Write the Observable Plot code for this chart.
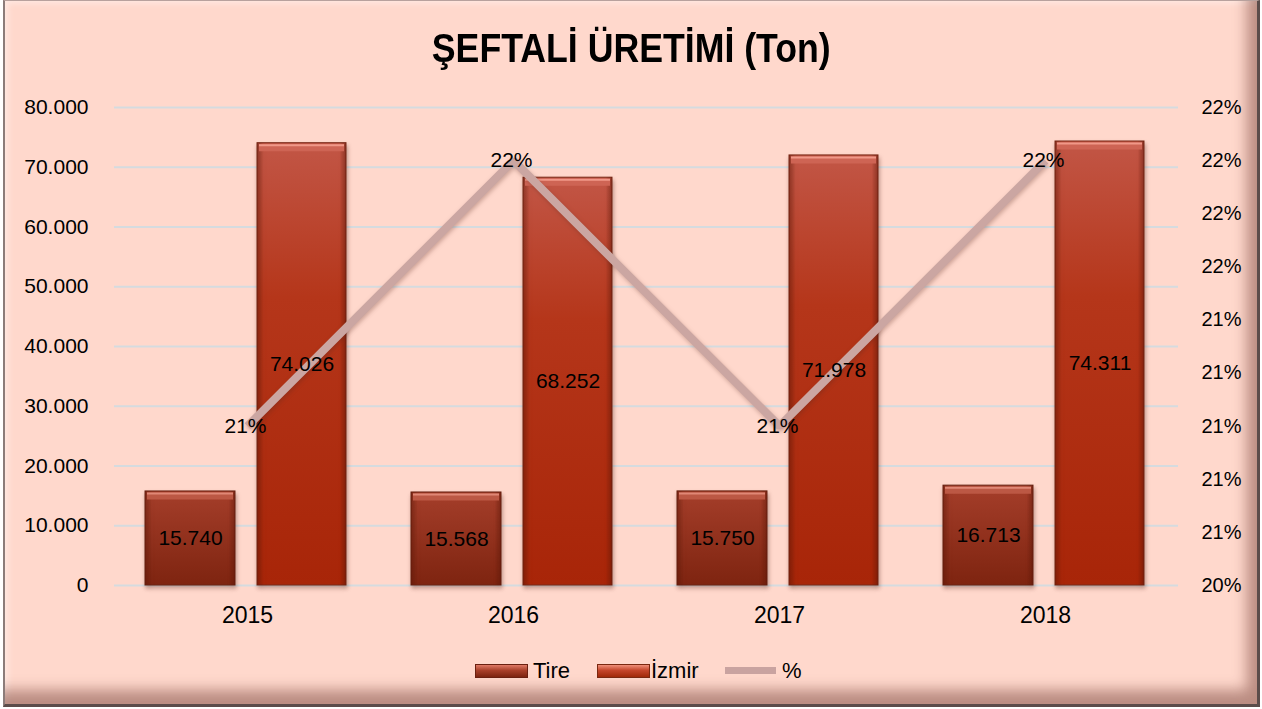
<!DOCTYPE html>
<html><head><meta charset="utf-8">
<script src="https://cdn.jsdelivr.net/npm/d3@7"></script>
<script src="https://cdn.jsdelivr.net/npm/@observablehq/plot@0.6"></script>
<style>
html,body{margin:0;padding:0;background:#fff;width:1262px;height:709px;overflow:hidden;font-family:"Liberation Sans",Arial,sans-serif;}
#frame{position:absolute;left:3px;top:0;width:1257px;height:707px;box-sizing:border-box;background:#FFD8CC;
 border-left:2px solid #8c7c7a;border-top:1px solid #b8a19d;border-right:3px solid #5b4c4a;border-bottom:3px solid #5b4c4a;
 box-shadow: inset -18px -22px 14px -8px rgba(140,90,80,0.6), inset 6px 5px 6px -3px rgba(255,238,232,0.8);}
#chart{position:absolute;left:0;top:0;}
#title{position:absolute;left:0;top:28px;width:1262px;text-align:center;font-weight:bold;font-size:41px;line-height:41px;color:#000;}
#title span{display:inline-block;transform:scaleX(0.87);transform-origin:center;}
#legend{position:absolute;left:0;top:657px;width:1262px;height:28px;font-size:22px;color:#000;}
.sw{position:absolute;top:7px;height:14px;width:53px;box-sizing:border-box;}
.lt{position:absolute;top:0;line-height:28px;}
svg g[aria-label="bar"] rect{filter:drop-shadow(1px 3px 2px rgba(90,40,30,0.35));}
svg g[aria-label="line"] path{filter:drop-shadow(1px 2px 2px rgba(90,40,30,0.3));}
</style></head>
<body>
<svg width="0" height="0" style="position:absolute">
 <defs>
  <linearGradient id="gTire" x1="0" y1="0" x2="0" y2="1">
   <stop offset="0" stop-color="#A53E2A"/>
   <stop offset="1" stop-color="#7E2410"/>
  </linearGradient>
  <linearGradient id="gIzmir" x1="0" y1="0" x2="0" y2="1">
   <stop offset="0" stop-color="#C25646"/>
   <stop offset="0.35" stop-color="#B5361A"/>
   <stop offset="1" stop-color="#A82508"/>
  </linearGradient>
  <linearGradient id="gEdge" x1="0" y1="0" x2="1" y2="0">
   <stop offset="0" stop-color="#5a1405" stop-opacity="0.45"/>
   <stop offset="0.07" stop-color="#5a1405" stop-opacity="0"/>
   <stop offset="0.93" stop-color="#5a1405" stop-opacity="0"/>
   <stop offset="1" stop-color="#5a1405" stop-opacity="0.45"/>
  </linearGradient>
 </defs>
</svg>
<div id="frame"></div>
<div id="chart"></div>
<div id="title"><span>ŞEFTALİ ÜRETİMİ (Ton)</span></div>
<div id="legend">
 <div class="sw" style="left:475px;background:linear-gradient(#E07A66,#A8402A 45%,#7C2410);border:1px solid #6a2010;"></div>
 <div class="lt" style="left:533px;">Tire</div>
 <div class="sw" style="left:597px;background:linear-gradient(#F0907A,#C4452A 45%,#A02808);border:1px solid #7a2810;"></div>
 <div class="lt" style="left:651px;">İzmir</div>
 <div class="sw" style="left:725px;width:51px;height:7px;top:10px;background:#C9A3A0;"></div>
 <div class="lt" style="left:782px;">%</div>
</div>
<script>
const years = ["2015", "2016", "2017", "2018"];
const tire = [15740, 15568, 15750, 16713];
const izmir = [74026, 68252, 71978, 74311];
const pct = [0.21, 0.22, 0.21, 0.22];
const leftTicks = [0, 10000, 20000, 30000, 40000, 50000, 60000, 70000, 80000];
const rightTicks = [0.204, 0.206, 0.208, 0.210, 0.212, 0.214, 0.216, 0.218, 0.220, 0.222];

const rows = years.map((y, i) => ({year: y, tire: tire[i], izmir: izmir[i], pct: pct[i]}));
const pMin = 0.204, pMax = 0.222, yMax = 80000;
const toY = p => (p - pMin) / (pMax - pMin) * yMax;
const fromY = v => pMin + v / yMax * (pMax - pMin);
const loc = d3.formatLocale({decimal: ",", thousands: ".", grouping: [3], currency: ["", ""]});
const fmt = loc.format(",d");
const pfmt = p => Math.round(Math.round(p * 1000) / 10) + "%";

const font = '"Liberation Sans", Arial, sans-serif';
const chart = Plot.plot({
  width: 1262, height: 709,
  marginLeft: 114, marginRight: 84, marginTop: 107, marginBottom: 124,
  style: {background: "transparent", fontFamily: font, color: "#000", overflow: "visible"},
  x: {type: "band", domain: years, padding: 0, label: null},
  y: {domain: [0, yMax], label: null},
  marks: [
    Plot.gridY(leftTicks, {stroke: "#D5DBDF", strokeOpacity: 1, strokeWidth: 2}),
    Plot.axisY({anchor: "left", ticks: leftTicks, tickSize: 0, tickPadding: 26, tickFormat: fmt, fontSize: 21, label: null}),
    Plot.axisY({anchor: "right", ticks: rightTicks.map(toY), tickSize: 0, tickPadding: 23, tickFormat: v => pfmt(fromY(v)), fontSize: 20, label: null}),
    Plot.axisX({tickSize: 0, tickPadding: 21, fontSize: 23, label: null}),
    Plot.barY(rows, {x: "year", y: "tire", fill: "url(#gTire)", stroke: "#6a2414", strokeWidth: 1, insetLeft: 31, insetRight: 145}),
    Plot.barY(rows, {x: "year", y: "izmir", fill: "url(#gIzmir)", stroke: "#7a2a18", strokeWidth: 1, insetLeft: 143, insetRight: 34}),
    Plot.barY(rows, {x: "year", y: "tire", fill: "url(#gEdge)", insetLeft: 31, insetRight: 145}),
    Plot.barY(rows, {x: "year", y: "izmir", fill: "url(#gEdge)", insetLeft: 143, insetRight: 34}),
    Plot.tickY(rows, {x: "year", y: "tire", stroke: "#BC5844", strokeWidth: 7, dy: 4.5, insetLeft: 33, insetRight: 147}),
    Plot.tickY(rows, {x: "year", y: "tire", stroke: "#E08876", strokeWidth: 2, dy: 2, insetLeft: 33, insetRight: 147}),
    Plot.tickY(rows, {x: "year", y: "izmir", stroke: "#CE6454", strokeWidth: 7, dy: 4.5, insetLeft: 145, insetRight: 36}),
    Plot.tickY(rows, {x: "year", y: "izmir", stroke: "#F09888", strokeWidth: 2, dy: 2, insetLeft: 145, insetRight: 36}),
    Plot.line(rows, {x: "year", y: d => toY(d.pct), stroke: "#CBA6A2", strokeWidth: 8, strokeLinejoin: "miter", strokeLinecap: "butt"}),
    Plot.text(rows, {x: "year", y: d => d.tire / 2, text: d => fmt(d.tire), dx: -57, fontSize: 21, fill: "#000"}),
    Plot.text(rows, {x: "year", y: d => d.izmir / 2, text: d => fmt(d.izmir), dx: 54.5, fontSize: 21, fill: "#000"}),
    Plot.text(rows, {x: "year", y: d => toY(d.pct), text: d => pfmt(d.pct), dx: -2, fontSize: 21, fill: "#000"})
  ]
});
document.getElementById("chart").appendChild(chart);
</script>
</body></html>
